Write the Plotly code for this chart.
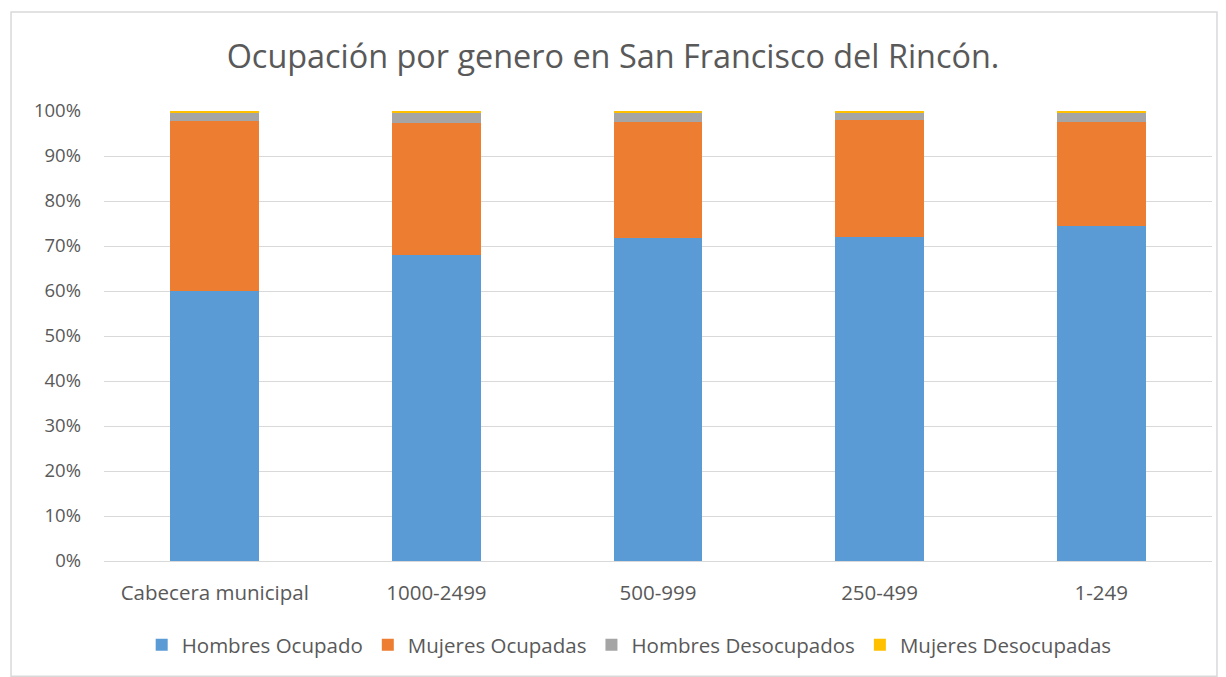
import plotly.graph_objects as go

categories = ["Cabecera municipal", "1000-2499", "500-999", "250-499", "1-249"]
hombres_ocupado = [60.0, 68.0, 71.8, 72.0, 74.4]
mujeres_ocupadas = [37.8, 29.4, 25.7, 26.1, 23.2]
hombres_desocupados = [1.7, 2.1, 2.0, 1.6, 2.1]
mujeres_desocupadas = [0.5, 0.5, 0.5, 0.3, 0.3]

series = [
    ("Hombres Ocupado", hombres_ocupado, "#5b9bd5"),
    ("Mujeres Ocupadas", mujeres_ocupadas, "#ed7d31"),
    ("Hombres Desocupados", hombres_desocupados, "#a5a5a5"),
    ("Mujeres Desocupadas", mujeres_desocupadas, "#ffc000"),
]

FONT = "Open Sans"
TEXT = "#595959"

fig = go.Figure()
for name, vals, color in series:
    fig.add_trace(go.Bar(
        name=name,
        x=categories,
        y=[v / 100 for v in vals],
        marker=dict(color=color, line=dict(width=0)),
    ))

fig.update_layout(
    barmode="stack",
    bargap=0.6,
    width=1226,
    height=677,
    margin=dict(l=104, r=14, t=111, b=116),
    paper_bgcolor="white",
    plot_bgcolor="white",
    font=dict(family=FONT, color=TEXT, size=20),
    title=dict(
        text="Ocupación por genero en San Francisco del Rincón.",
        x=0.5, xanchor="center",
        y=0.916, yanchor="middle",
        font=dict(family=FONT, size=32.4, color=TEXT),
    ),
    xaxis=dict(
        showgrid=False,
        showline=True,
        linecolor="#d9d9d9",
        linewidth=1,
        ticks="",
        ticklabelstandoff=13,
        tickfont=dict(size=20.5, color=TEXT),
    ),
    yaxis=dict(
        range=[0, 1],
        dtick=0.1,
        tickformat=".0%",
        showgrid=True,
        gridcolor="#d9d9d9",
        gridwidth=1,
        zeroline=False,
        ticks="",
        ticklabelstandoff=22,
        tickfont=dict(size=18.5, color=TEXT),
    ),
    legend=dict(
        orientation="h",
        x=0.474, xanchor="center",
        y=-0.142, yanchor="top",
        font=dict(size=20.5, color=TEXT),
        itemwidth=30,
        traceorder="normal",
    ),
    shapes=[dict(
        type="rect", xref="paper", yref="paper",
        x0=-0.0839, x1=1.0045, y0=-0.256, y1=1.22,
        line=dict(color="#d9d9d9", width=1.5),
        fillcolor="rgba(0,0,0,0)",
        layer="below",
    )],
)

fig.write_html("out.html")
